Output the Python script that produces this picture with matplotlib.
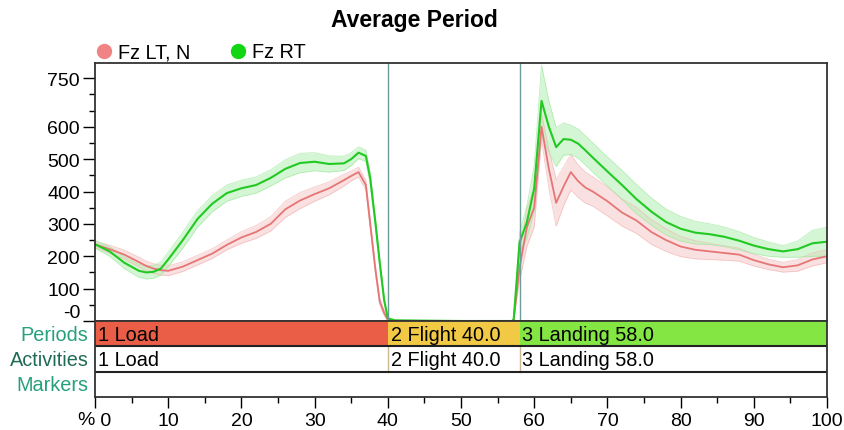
import matplotlib
matplotlib.use("Agg")
import matplotlib.pyplot as plt
from matplotlib.lines import Line2D
from matplotlib.ticker import MultipleLocator

plt.rcParams["font.family"] = ["Liberation Sans", "DejaVu Sans"]

# DATA
pct = [0, 2, 4, 6, 7, 8, 9, 10, 12, 14, 16, 18, 20, 22, 24, 26, 28, 30, 32, 34,
       35, 36, 37, 37.6, 38.3, 38.9, 39.5, 40, 41, 50, 57, 57.2, 58, 59, 60, 61,
       62, 63, 64, 65, 66, 67, 68, 70, 72, 74, 76, 78, 80, 82, 84, 86, 88, 90,
       92, 94, 96, 98, 100]

fz_rt = [237, 215, 180, 155, 150, 152, 162, 190, 250, 315, 362, 395, 410, 420,
         442, 470, 488, 492, 485, 487, 500, 520, 510, 440, 305, 180, 65, 8, 2,
         0, 0, 5, 243, 305, 410, 680, 600, 537, 562, 560, 548, 527, 505, 462,
         420, 376, 338, 306, 285, 273, 268, 260, 248, 233, 222, 215, 222, 240,
         245]
fz_rt_sd = [12, 15, 18, 20, 20, 20, 20, 22, 25, 25, 25, 25, 25, 25, 25, 28, 30,
            28, 25, 22, 20, 18, 18, 18, 15, 12, 10, 3, 1, 0, 0, 2, 30, 50, 70,
            110, 80, 60, 50, 45, 45, 45, 45, 45, 45, 45, 42, 40, 38, 35, 32, 30,
            28, 25, 22, 18, 25, 40, 45]

fz_lt = [237, 222, 205, 182, 170, 162, 157, 155, 168, 188, 208, 235, 258, 275,
         300, 345, 372, 392, 410, 435, 448, 460, 420, 300, 160, 60, 25, 3, 0,
         0, 0, 5, 165, 290, 350, 600, 470, 365, 415, 460, 432, 412, 400, 370,
         335, 310, 275, 250, 230, 220, 215, 210, 205, 188, 175, 166, 172, 190,
         200]
fz_lt_sd = [10, 12, 14, 15, 15, 15, 15, 15, 15, 15, 15, 15, 18, 20, 22, 25, 25,
            22, 20, 18, 15, 15, 15, 15, 12, 10, 8, 2, 0, 0, 0, 2, 40, 60, 60,
            40, 60, 72, 60, 55, 50, 48, 45, 45, 42, 40, 38, 35, 31, 28, 25, 22,
            20, 18, 16, 15, 18, 20, 20]

period_names = ["1 Load", "2 Flight 40.0", "3 Landing 58.0"]
period_start = [0, 40, 58]
period_end = [40, 58, 100]
period_colors = ["#ea5d47", "#f1c945", "#83e642"]
activity_names = ["1 Load", "2 Flight 40.0", "3 Landing 58.0"]

y_ticks = [0, 100, 200, 300, 400, 500, 600, 750]
y_tick_labels = ["-0", "100", "200", "300", "400", "500", "600", "750"]
x_ticks = [0, 10, 20, 30, 40, 50, 60, 70, 80, 90, 100]
x_tick_labels = [" 0", "10", "20", "30", "40", "50", "60", "70", "80", "90",
                 "100"]

# FIGURE
W, H = 844, 431
fig = plt.figure(figsize=(W / 100, H / 100), dpi=100)
left, right = 95 / W, 827 / W
ax = fig.add_axes([left, 1 - 322 / H, right - left, (322 - 64) / H])
strip = fig.add_axes([left, 1 - 398 / H, right - left, (398 - 322) / H], sharex=ax)

TICK_FS = 14
TEXT_FS = 14.3

# main curves
red, red_band = "#e67575", "#f7caca"
green, green_band = "#22c922", "#b4f0b4"
lt_lo = [m - s for m, s in zip(fz_lt, fz_lt_sd)]
lt_hi = [m + s for m, s in zip(fz_lt, fz_lt_sd)]
rt_lo = [m - s for m, s in zip(fz_rt, fz_rt_sd)]
rt_hi = [m + s for m, s in zip(fz_rt, fz_rt_sd)]

ax.fill_between(pct, lt_lo, lt_hi, color=red_band, alpha=0.55, lw=0)
ax.plot(pct, lt_lo, color="#f2b5b5", lw=0.6, alpha=0.7)
ax.plot(pct, lt_hi, color="#f2b5b5", lw=0.6, alpha=0.7)
ax.fill_between(pct, rt_lo, rt_hi, color=green_band, alpha=0.55, lw=0)
ax.plot(pct, rt_lo, color="#9fe89f", lw=0.6, alpha=0.7)
ax.plot(pct, rt_hi, color="#9fe89f", lw=0.6, alpha=0.7)
ax.plot(pct, fz_lt, color=red, lw=1.3)
ax.plot(pct, fz_rt, color=green, lw=1.5)

for x in period_start[1:]:
    ax.axvline(x, color="#6e9c98", lw=1.0)

ax.set_xlim(0, 100)
ax.set_ylim(0, 797)
ax.set_yticks(y_ticks)
ax.set_yticklabels(y_tick_labels)
ax.yaxis.set_minor_locator(MultipleLocator(50))
ax.tick_params(axis="y", which="major", length=8.8, width=1,
               labelsize=TICK_FS, pad=2)
ax.tick_params(axis="y", which="minor", length=4.2, width=1)
ax.tick_params(axis="x", bottom=False, labelbottom=False)
ax.get_yticklabels()[0].set_va("bottom")
for s in ax.spines.values():
    s.set_linewidth(1.3)
    s.set_color("#333333")

# strip with periods / activities / markers
strip.set_ylim(3, 0)
strip.barh([0.5] * 3, [e - s for s, e in zip(period_start, period_end)],
           left=period_start, height=1, color=period_colors, lw=0)
for name, s in zip(period_names, period_start):
    strip.text(s + 0.4, 0.52, name, va="center", ha="left", fontsize=TEXT_FS)
for name, s in zip(activity_names, period_start):
    strip.text(s + 0.4, 1.52, name, va="center", ha="left", fontsize=TEXT_FS)
for x in period_start[1:]:
    strip.plot([x, x], [1, 2], color="#cbb98f", lw=1.0)
for y in [1, 2]:
    strip.axhline(y, color="#222222", lw=1.5)
strip.set_yticks([])
strip.set_xticks(x_ticks)
strip.set_xticklabels(x_tick_labels)
strip.get_xticklabels()[0].set_ha("left")
strip.xaxis.set_minor_locator(MultipleLocator(5))
strip.tick_params(axis="x", which="major", length=8, width=1,
                  labelsize=TICK_FS, pad=2.8)
strip.tick_params(axis="x", which="minor", length=4.5, width=1)
for s in strip.spines.values():
    s.set_linewidth(1.3)
    s.set_color("#333333")

row_labels = ["Periods", "Activities", "Markers"]
row_colors = ["#27a07c", "#1f6b56", "#27a07c"]
for i, (lab, c) in enumerate(zip(row_labels, row_colors)):
    strip.text(-0.009, i + 0.52, lab, ha="right", va="center",
               fontsize=TEXT_FS, color=c,
               transform=strip.get_yaxis_transform())

fig.text(95 / W, 1 - 421 / H, "%", ha="right", va="center", fontsize=TICK_FS)

# title and legend
fig.text(414 / W, 1 - 21 / H, "Average Period", ha="center", va="center",
         fontsize=16.5, fontweight="bold")
handles = [
    Line2D([], [], ls="", marker="o", markersize=10, color="#f08383"),
    Line2D([], [], ls="", marker="o", markersize=10, color="#11d611"),
]
fig.legend(handles, ["Fz LT, N", "Fz RT"], loc="center left",
           bbox_to_anchor=(96 / W, 1 - 53 / H), ncol=2, frameon=False,
           fontsize=TEXT_FS, handlelength=0.8, handletextpad=0.3,
           columnspacing=2.0, borderpad=0, borderaxespad=0)

fig.savefig("out.png", dpi=100)
